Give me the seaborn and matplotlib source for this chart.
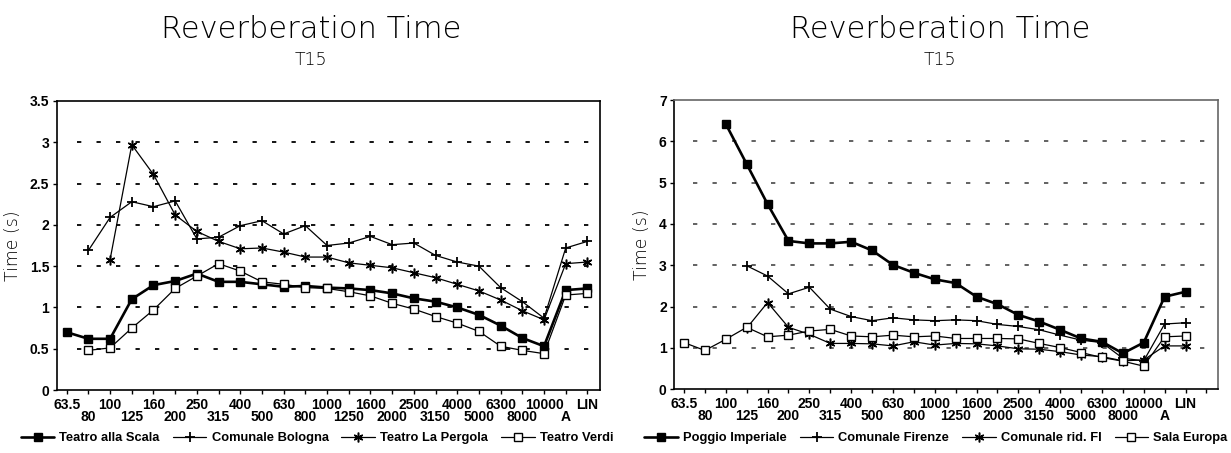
import numpy as np
import pandas as pd
import matplotlib
matplotlib.use("Agg")
import matplotlib.pyplot as plt
from matplotlib.lines import Line2D
from matplotlib.ticker import FuncFormatter, FixedLocator, FixedFormatter
import seaborn as sns

# Third-octave band centres (Hz) plus A-weighted and linear totals
bands = ["63.5", "80", "100", "125", "160", "200", "250", "315", "400", "500",
         "630", "800", "1000", "1250", "1600", "2000", "2500", "3150", "4000",
         "5000", "6300", "8000", "10000", "A", "LIN"]

nan = np.nan

# Reverberation time T15 (s) - left group
scala = [0.70, 0.62, 0.62, 1.10, 1.27, 1.32, 1.41, 1.31, 1.31, 1.28, 1.25, 1.26, 1.24,
         1.23, 1.21, 1.17, 1.11, 1.07, 1.00, 0.91, 0.78, 0.63, 0.53, 1.21, 1.23]
bologna = [nan, 1.69, 2.09, 2.28, 2.22, 2.29, 1.83, 1.85, 1.99, 2.05, 1.89, 1.99, 1.75,
           1.78, 1.86, 1.76, 1.78, 1.63, 1.55, 1.50, 1.24, 1.07, 0.87, 1.72, 1.80]
pergola = [nan, nan, 1.58, 2.97, 2.61, 2.12, 1.92, 1.80, 1.71, 1.72, 1.67, 1.61, 1.61,
           1.54, 1.51, 1.48, 1.42, 1.36, 1.28, 1.20, 1.09, 0.96, 0.85, 1.53, 1.55]
verdi = [nan, 0.48, 0.51, 0.75, 0.97, 1.23, 1.38, 1.53, 1.44, 1.31, 1.28, 1.24, 1.23,
         1.19, 1.14, 1.05, 0.98, 0.89, 0.81, 0.71, 0.53, 0.48, 0.44, 1.15, 1.17]

# Reverberation time T15 (s) - right group
poggio = [nan, nan, 6.42, 5.45, 4.48, 3.59, 3.53, 3.53, 3.57, 3.36, 3.01, 2.82, 2.66,
          2.57, 2.24, 2.06, 1.80, 1.64, 1.44, 1.23, 1.15, 0.87, 1.13, 2.24, 2.36]
firenze = [nan, nan, nan, 2.99, 2.74, 2.31, 2.47, 1.94, 1.76, 1.66, 1.73, 1.68, 1.66,
           1.68, 1.66, 1.57, 1.52, 1.44, 1.31, 1.19, 1.13, 0.75, 0.69, 1.58, 1.61]
rid_fi = [nan, nan, nan, 1.48, 2.10, 1.50, 1.33, 1.11, 1.11, 1.10, 1.05, 1.15, 1.07,
          1.11, 1.10, 1.05, 0.98, 0.97, 0.91, 0.83, 0.79, 0.69, 0.71, 1.05, 1.05]
europa = [1.13, 0.94, 1.21, 1.50, 1.27, 1.31, 1.41, 1.45, 1.29, 1.27, 1.31, 1.27, 1.29,
          1.23, 1.23, 1.23, 1.22, 1.11, 1.01, 0.89, 0.77, 0.68, 0.56, 1.27, 1.29]

left_names = ["Teatro alla Scala", "Comunale Bologna", "Teatro La Pergola", "Teatro Verdi"]
right_names = ["Poggio Imperiale", "Comunale Firenze", "Comunale rid. FI", "Sala Europa"]

sns.set_theme(style="white")
plt.rcParams["font.family"] = ["DejaVu Sans"]
plt.rcParams["lines.scale_dashes"] = False
plt.rcParams["text.color"] = "black"
plt.rcParams["axes.labelcolor"] = "black"
plt.rcParams["xtick.color"] = "black"
plt.rcParams["ytick.color"] = "black"

TICK_FAMILY = "Liberation Sans"

ASTERISK = (6, 2, 0)
styles = [
    dict(marker="s", markersize=5.5, markerfacecolor="black", markeredgecolor="black",
         linewidth=1.9, markeredgewidth=1.0),
    dict(marker="+", markersize=7, markerfacecolor="black", markeredgecolor="black",
         linewidth=0.9, markeredgewidth=1.3),
    dict(marker=ASTERISK, markersize=7, markerfacecolor="black", markeredgecolor="black",
         linewidth=0.9, markeredgewidth=1.1),
    dict(marker="s", markersize=5.5, markerfacecolor="white", markeredgecolor="black",
         linewidth=0.9, markeredgewidth=1.0),
]

W, H = 1231, 453
fig = plt.figure(figsize=(W / 100, H / 100), dpi=100)
ax1 = fig.add_axes([57 / W, (H - 390) / H, (600 - 57) / W, (390 - 101) / H])
ax2 = fig.add_axes([674.3 / W, (H - 389.3) / H, (1217.7 - 674.3) / W, (389.3 - 100) / H])


def draw(ax, series, ymax, ystep, xlim, n_ticks, grid_color, frame_color, grid_start):
    idx = np.arange(len(bands))
    for y in np.arange(ystep, ymax - ystep / 2, ystep):
        ax.axhline(y, xmin=grid_start, xmax=1, color=grid_color, lw=1.3,
                   dashes=(3.1, 10.94), zorder=1)
    for vals, st in zip(series, styles):
        df = pd.DataFrame({"band": idx, "T": vals}).dropna()
        sns.lineplot(data=df, x="band", y="T", ax=ax, color="black", legend=False,
                     errorbar=None, zorder=3, **st)
    ax.set_xlim(*xlim)
    ax.set_ylim(0, ymax)
    ax.set_xlabel("")
    ax.set_ylabel("Time (s)", fontsize=12.5, labelpad=6, fontweight="light")

    # band labels on two staggered rows: even bands on major ticks, odd on minor
    major_pos = [i for i in range(n_ticks) if i % 2 == 0]
    minor_pos = [i for i in range(n_ticks) if i % 2 == 1]
    lab = lambda i: bands[i] if i < len(bands) else ""
    ax.xaxis.set_major_locator(FixedLocator(major_pos))
    ax.xaxis.set_major_formatter(FixedFormatter([lab(i) for i in major_pos]))
    ax.xaxis.set_minor_locator(FixedLocator(minor_pos))
    ax.xaxis.set_minor_formatter(FixedFormatter([lab(i) for i in minor_pos]))
    ax.tick_params(axis="x", which="major", direction="out", length=3, width=1.0,
                   pad=2.5, bottom=True)
    ax.tick_params(axis="x", which="minor", direction="out", length=3, width=1.0,
                   pad=11.5, bottom=True)

    ax.set_yticks(np.arange(0, ymax + ystep / 2, ystep))
    ax.yaxis.set_major_formatter(FuncFormatter(lambda v, p: f"{v:g}"))
    ax.tick_params(axis="y", direction="out", length=3, width=1.0, pad=2.5, left=True)

    for t in (ax.get_xticklabels(which="both") + ax.get_yticklabels()):
        t.set_fontfamily(TICK_FAMILY)
        t.set_fontweight("bold")
        t.set_fontsize(10)
    for side in ["left", "bottom"]:
        ax.spines[side].set_color("black")
        ax.spines[side].set_linewidth(1.2)
    for side in ["top", "right"]:
        ax.spines[side].set_color(frame_color)
        ax.spines[side].set_linewidth(1.2)
    ax.set_facecolor("white")
    return [Line2D([], [], color="black", **st) for st in styles]


h1 = draw(ax1, [scala, bologna, pergola, verdi], 3.5, 0.5,
          (-0.447, 24.58), 25, "black", "black", 0.036)
h2 = draw(ax2, [poggio, firenze, rid_fi, europa], 7, 1,
          (-0.464, 25.54), 26, "#555555", "#666666", 0.034)

legend_kw = dict(loc="center", ncol=4, frameon=False, handlelength=2.6,
                 handletextpad=0.4, columnspacing=1.0, borderaxespad=0, borderpad=0,
                 prop=dict(family="Liberation Sans", weight="bold", size=9.3))
fig.legend(h1, left_names, bbox_to_anchor=(317 / W, 15 / H), **legend_kw)
fig.legend(h2, right_names, bbox_to_anchor=(936 / W, 15 / H), **legend_kw)

for cx in (311 / W, 940 / W):
    fig.text(cx, (H - 38) / H, "Reverberation Time", ha="center", va="baseline",
             fontsize=22, fontweight="light", color="black")
    fig.text(cx, (H - 65) / H, "T15", ha="center", va="baseline",
             fontsize=12.5, fontweight="light", color="black")

fig.savefig("out.png", dpi=100, facecolor="white")
